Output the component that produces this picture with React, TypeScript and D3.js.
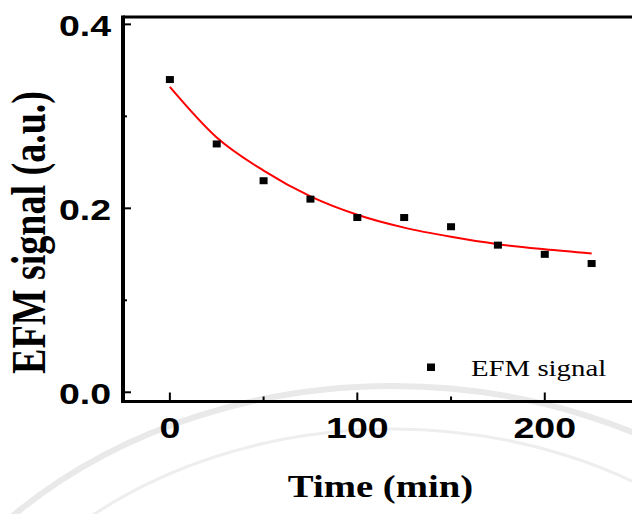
import React from "react";
import * as d3 from "d3";

// measured data (EFM signal vs time)
const times = [0, 25, 50, 75, 100, 125, 150, 175, 200, 225];
const signal = [0.34, 0.27, 0.23, 0.21, 0.19, 0.19, 0.18, 0.16, 0.15, 0.14];
// fitted curve
const fitTimes = [0, 25, 50, 75, 100, 125, 150, 175, 200, 225];
const fitValues = [0.332, 0.277, 0.241, 0.213, 0.193, 0.179, 0.169, 0.161, 0.1555, 0.151];

const xMajor = [0, 100, 200];
const xMinor = [50, 150];
const yMajor = [0, 0.2, 0.4];
const yMinor = [0.1, 0.3];

const width = 632;
const height = 514;
const stretch = 1.25; // the original figure is stretched horizontally

const x = d3.scaleLinear().domain([-25, 250]).range([123, 638.5]);
const y = d3.scaleLinear().domain([-0.01, 0.408]).range([401.5, 17]);

const sans = { fontFamily: "Liberation Sans", fontWeight: "bold", fontSize: 30 } as const;
const serifBold = { fontFamily: "Liberation Serif", fontWeight: "bold" } as const;

const App = () => {
  const fitLine = d3
    .line<number>()
    .x((d, i) => x(fitTimes[i]))
    .y((d) => y(d))
    .curve(d3.curveMonotoneX);

  const left = x(-25);
  const bottom = y(-0.01);
  const top = y(0.408);
  const right = x(250);

  return (
    <svg
      width={width}
      height={height}
      style={{ position: "absolute", left: 0, top: 0, background: "#fff" }}
    >
      {/* faint watermark seal in the background */}
      <ellipse cx={392.7} cy={807} rx={526} ry={421} fill="none" stroke="#e9e9e9" strokeWidth={6} />
      <ellipse cx={392.7} cy={807} rx={472} ry={378} fill="none" stroke="#eeeeee" strokeWidth={3} />

      {/* frame */}
      <line x1={left} x2={right} y1={top} y2={top} stroke="#000" strokeWidth={3} />
      <line x1={left} x2={right} y1={bottom} y2={bottom} stroke="#000" strokeWidth={3} />
      <line x1={left} x2={left} y1={top - 1.5} y2={bottom + 1.5} stroke="#000" strokeWidth={4} />
      <line x1={right} x2={right} y1={top} y2={bottom} stroke="#000" strokeWidth={4} />

      {/* x ticks */}
      {xMajor.map((t) => (
        <g key={"xm" + t}>
          <line x1={x(t)} x2={x(t)} y1={bottom} y2={bottom - 9} stroke="#000" strokeWidth={2} />
          <text
            transform={`translate(${x(t)},${bottom + 36.5}) scale(${stretch},1)`}
            textAnchor="middle"
            style={sans}
          >
            {t}
          </text>
        </g>
      ))}
      {xMinor.map((t) => (
        <line key={"xn" + t} x1={x(t)} x2={x(t)} y1={bottom} y2={bottom - 5} stroke="#000" strokeWidth={2} />
      ))}

      {/* y ticks */}
      {yMajor.map((t) => (
        <g key={"ym" + t}>
          <line x1={left} x2={left + 8} y1={y(t)} y2={y(t)} stroke="#000" strokeWidth={2} />
          <text
            transform={`translate(111,${y(t) + 11.5}) scale(${stretch},1)`}
            textAnchor="end"
            style={sans}
          >
            {t.toFixed(1)}
          </text>
        </g>
      ))}
      {yMinor.map((t) => (
        <line key={"yn" + t} x1={left} x2={left + 4} y1={y(t)} y2={y(t)} stroke="#000" strokeWidth={2} />
      ))}

      {/* fit */}
      <path d={fitLine(fitValues) || ""} fill="none" stroke="#ff0000" strokeWidth={2} />

      {/* points */}
      {times.map((t, i) => (
        <rect key={t} x={x(t) - 4} y={y(signal[i]) - 3.5} width={8} height={7} fill="#000" />
      ))}

      {/* legend */}
      <rect x={427} y={363.5} width={8} height={7.5} fill="#000" />
      <text
        transform={`translate(471,375.5) scale(1.2,1)`}
        style={{ fontFamily: "Liberation Serif", fontSize: 24 }}
      >
        EFM signal
      </text>

      {/* axis titles */}
      <text
        transform={`translate(380.5,496.5) scale(${stretch},1)`}
        textAnchor="middle"
        style={{ ...serifBold, fontSize: 31 }}
      >
        Time (min)
      </text>
      <text
        transform={`translate(45,232.5) scale(${stretch},1) rotate(-90)`}
        textAnchor="middle"
        style={{ ...serifBold, fontSize: 38 }}
      >
        EFM signal (a.u.)
      </text>
    </svg>
  );
};

export default App;
